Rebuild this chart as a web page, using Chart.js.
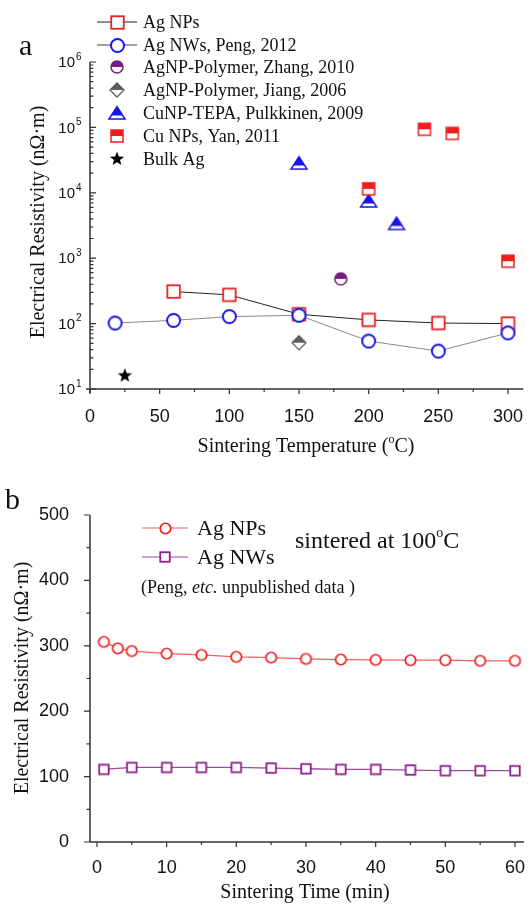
<!DOCTYPE html>
<html><head><meta charset="utf-8">
<script src="https://cdn.jsdelivr.net/npm/chart.js@4/dist/chart.umd.min.js"></script>
<style>
html,body{margin:0;padding:0;background:#fff;overflow:hidden;width:532px;height:905px}
canvas{display:block;position:absolute;left:0}
#c1{top:0}#c2{top:460px}
</style></head>
<body>
<canvas id="c1" width="532" height="460"></canvas>
<canvas id="c2" width="532" height="445"></canvas>
<script>
// ---------- Panel a data (Sintering Temperature °C vs resistivity nΩ·m) ----------
const tempAgNP = [60, 100, 150, 200, 250, 300];
const resAgNP  = [309, 275, 139, 114, 102, 100];
const tempAgNW = [18, 60, 100, 150, 200, 250, 300];
const resAgNW  = [102, 112, 128, 134, 54, 38, 72];
const tempZhang = [180];
const resZhang  = [483];
const tempJiang = [150];
const resJiang  = [51];
const tempPulk = [150, 200, 220];
const resPulk  = [28500, 7500, 3400];
const tempYan = [200, 240, 260, 300];
const resYan  = [11500, 93500, 81000, 900];
const tempBulk = [25];
const resBulk  = [16];
const tempTicks = [0, 50, 100, 150, 200, 250, 300];
const tempMinorTicks = [25, 75, 125, 175, 225, 275];
const resLogTicks = [10, 100, 1000, 10000, 100000, 1000000];
const labelsA = ["Ag NPs", "Ag NWs, Peng, 2012", "AgNP-Polymer, Zhang, 2010", "AgNP-Polymer, Jiang, 2006",
                 "CuNP-TEPA, Pulkkinen, 2009", "Cu NPs, Yan, 2011", "Bulk Ag"];

// ---------- Panel b data (Sintering time min vs resistivity) ----------
const timeNP = [1, 3, 5, 10, 15, 20, 25, 30, 35, 40, 45, 50, 55, 60];
const resNP  = [306, 296, 292, 288, 286, 283, 282, 280, 279, 278.5, 278, 278, 277, 277];
const timeNW = [1, 5, 10, 15, 20, 25, 30, 35, 40, 45, 50, 55, 60];
const resNW  = [111, 114, 114, 114, 114, 113, 112, 111, 111, 110, 109, 109, 109];
const timeTicks = [0, 10, 20, 30, 40, 50, 60];
const timeMinorTicks = [5, 15, 25, 35, 45, 55];
const resTicksB = [0, 100, 200, 300, 400, 500];
const resMinorTicksB = [50, 150, 250, 350, 450];
const labelsB = ["Ag NPs", "Ag NWs"];

const RED = '#ec1f1f', BLUE = '#1616e8', PURPLE = '#7c1a80', PURPLE2 = '#8e1f8e', GRAY = '#5e5e5e';
const SERIF = '"Liberation Serif","Times New Roman",serif';
const SANS = '"Liberation Sans",Arial,sans-serif';

function mk(kind, size, color, lw) {
  const pad = 2, d = Math.ceil(size + lw + pad * 2);
  const c = document.createElement('canvas'); c.width = c.height = d;
  const g = c.getContext('2d'); const m = d / 2, h = size / 2;
  g.lineWidth = lw; g.strokeStyle = color; g.fillStyle = '#fff'; g.lineJoin = 'miter';
  if (kind === 'square') {
    g.fillRect(m - h, m - h, size, size); g.strokeRect(m - h, m - h, size, size);
  } else if (kind === 'circle') {
    g.beginPath(); g.arc(m, m, h, 0, 2 * Math.PI); g.fill(); g.stroke();
  } else if (kind === 'halfSquare') {
    g.fillRect(m - h, m - h, size, size); g.fillStyle = color; g.fillRect(m - h, m - h, size, size / 2);
    g.strokeRect(m - h, m - h, size, size);
  } else if (kind === 'halfCircle') {
    g.beginPath(); g.arc(m, m, h, 0, 2 * Math.PI); g.fill();
    g.fillStyle = color; g.beginPath(); g.arc(m, m, h, Math.PI, 2 * Math.PI); g.closePath(); g.fill();
    g.beginPath(); g.arc(m, m, h, 0, 2 * Math.PI); g.stroke();
  } else if (kind === 'halfDiamond') {
    g.beginPath(); g.moveTo(m, m - h); g.lineTo(m + h, m); g.lineTo(m, m + h); g.lineTo(m - h, m); g.closePath(); g.fill();
    g.fillStyle = color; g.beginPath(); g.moveTo(m, m - h); g.lineTo(m + h, m); g.lineTo(m - h, m); g.closePath(); g.fill();
    g.beginPath(); g.moveTo(m, m - h); g.lineTo(m + h, m); g.lineTo(m, m + h); g.lineTo(m - h, m); g.closePath(); g.stroke();
  } else if (kind === 'halfTriangle') {
    const top = m - h * 0.8, bot = m + h * 0.75, cut = m + h * 0.3;
    const f = (cut - top) / (bot - top);
    g.beginPath(); g.moveTo(m, top); g.lineTo(m + h, bot); g.lineTo(m - h, bot); g.closePath(); g.fill();
    g.fillStyle = color; g.beginPath(); g.moveTo(m, top); g.lineTo(m + h * f, cut); g.lineTo(m - h * f, cut); g.closePath(); g.fill();
    g.beginPath(); g.moveTo(m, top); g.lineTo(m + h, bot); g.lineTo(m - h, bot); g.closePath(); g.stroke();
  } else if (kind === 'star') {
    g.fillStyle = color; g.beginPath();
    for (let i = 0; i < 10; i++) {
      const r = i % 2 === 0 ? h : h * 0.42, a = -Math.PI / 2 + i * Math.PI / 5;
      const x = m + r * Math.cos(a), y = m + r * Math.sin(a);
      i === 0 ? g.moveTo(x, y) : g.lineTo(x, y);
    }
    g.closePath(); g.fill();
  }
  return c;
}

const mAgNP = mk('square', 12.5, RED, 1.8);
const mAgNW = mk('circle', 13, BLUE, 2);
const mZhang = mk('halfCircle', 12, PURPLE, 1.5);
const mJiang = mk('halfDiamond', 14, GRAY, 1.3);
const mPulk = mk('halfTriangle', 16, BLUE, 1.5);
const mYan = mk('halfSquare', 12, RED, 1.5);
const mBulk = mk('star', 15, '#000', 1);
const mNP_b = mk('circle', 10.5, RED, 1.7);
const mNW_b = mk('square', 9.5, PURPLE2, 1.8);

function pts(xs, ys) { return xs.map((x, i) => ({ x: x, y: ys[i] })); }

function drawParts(ctx, parts, x, y, align) {
  let w = 0;
  parts.forEach(p => { ctx.font = p.font; w += ctx.measureText(p.t).width; });
  let cx = align === 'center' ? x - w / 2 : x;
  ctx.textAlign = 'left'; ctx.textBaseline = 'alphabetic';
  parts.forEach(p => { ctx.font = p.font; ctx.fillText(p.t, cx, y + (p.dy || 0)); cx += ctx.measureText(p.t).width; });
}

const axesPlugin = {
  id: 'axesDraw',
  afterDraw(chart, args, o) {
    const { ctx, chartArea: a, scales } = chart;
    ctx.save();
    ctx.strokeStyle = '#333'; ctx.lineWidth = 1.5;
    ctx.beginPath();
    ctx.moveTo(a.left, a.top); ctx.lineTo(a.left, a.bottom + (o.yIn ? 4 : 0));
    ctx.moveTo(a.left - (o.yIn ? 4 : 0), a.bottom); ctx.lineTo(a.right, a.bottom);
    ctx.stroke();
    ctx.lineWidth = 1.2; ctx.beginPath();
    const X = scales.x, Y = scales.y;
    o.xMajor.forEach(v => { const p = X.getPixelForValue(v); ctx.moveTo(p, a.bottom); ctx.lineTo(p, a.bottom + 5); });
    o.xMinor.forEach(v => { const p = X.getPixelForValue(v); ctx.moveTo(p, a.bottom); ctx.lineTo(p, a.bottom + 3); });
    const d = o.yIn ? 1 : -1;
    o.yMajor.forEach(v => { const p = Y.getPixelForValue(v); ctx.moveTo(a.left, p); ctx.lineTo(a.left + d * 6, p); });
    o.yMinor.forEach(v => { const p = Y.getPixelForValue(v); ctx.moveTo(a.left, p); ctx.lineTo(a.left + d * 3.5, p); });
    ctx.stroke();
    ctx.fillStyle = '#111';
    if (o.logLabels) {
      o.yMajor.forEach(v => {
        const p = Y.getPixelForValue(v), n = Math.round(Math.log10(v));
        ctx.font = '15px ' + SANS; ctx.textAlign = 'right'; ctx.textBaseline = 'middle';
        ctx.fillText('10', 75, p + 1);
        ctx.font = '10px ' + SANS; ctx.textAlign = 'left';
        ctx.fillText(String(n), 76, p - 5);
      });
    }
    if (o.extra) o.extra(ctx, chart);
    ctx.restore();
  }
};

function legendItem(ctx, x1, x2, xm, xt, y, lineColor, marker, text, font) {
  if (lineColor) {
    ctx.strokeStyle = lineColor; ctx.lineWidth = 1.2;
    ctx.beginPath(); ctx.moveTo(x1, y); ctx.lineTo(x2, y); ctx.stroke();
  }
  ctx.drawImage(marker, Math.round(xm - marker.width / 2), Math.round(y - marker.height / 2));
  ctx.fillStyle = '#111'; ctx.font = font; ctx.textAlign = 'left'; ctx.textBaseline = 'middle';
  ctx.fillText(text, xt, y + 1);
}

// ---------- Chart a ----------
const logMinor = [];
resLogTicks.slice(0, -1).forEach(b => { for (let k = 2; k <= 9; k++) logMinor.push(b * k); });

new Chart(document.getElementById('c1'), {
  type: 'line',
  data: {
    datasets: [
      { label: labelsA[0], data: pts(tempAgNP, resAgNP), borderColor: '#222', borderWidth: 1, pointStyle: mAgNP, showLine: true, order: 3 },
      { label: labelsA[1], data: pts(tempAgNW, resAgNW), borderColor: '#8a8a8a', borderWidth: 1, pointStyle: mAgNW, showLine: true, order: 2 },
      { label: labelsA[2], data: pts(tempZhang, resZhang), pointStyle: mZhang, showLine: false, order: 1 },
      { label: labelsA[3], data: pts(tempJiang, resJiang), pointStyle: mJiang, showLine: false, order: 1 },
      { label: labelsA[4], data: pts(tempPulk, resPulk), pointStyle: mPulk, showLine: false, order: 1 },
      { label: labelsA[5], data: pts(tempYan, resYan), pointStyle: mYan, showLine: false, order: 0 },
      { label: labelsA[6], data: pts(tempBulk, resBulk), pointStyle: mBulk, showLine: false, order: 1 }
    ]
  },
  options: {
    responsive: false, animation: false, devicePixelRatio: 1, events: [],
    layout: { padding: { top: 62, left: 0, right: 0, bottom: 0 }, autoPadding: false },
    elements: { point: { radius: 6 }, line: { tension: 0 } },
    plugins: {
      legend: { display: false }, tooltip: { enabled: false },
      axesDraw: {
        yIn: true, logLabels: true,
        xMajor: tempTicks, xMinor: tempMinorTicks, yMajor: resLogTicks, yMinor: logMinor,
        extra(ctx) {
          const ys = [22, 45, 67, 90, 113, 136, 159];
          const mks = [mAgNP, mAgNW, mZhang, mJiang, mPulk, mYan, mBulk];
          const lines = ['#222', '#444', null, null, null, null, null];
          labelsA.forEach((t, i) => legendItem(ctx, 97, 137, 117, 143, ys[i], lines[i], mks[i], t, '18px ' + SERIF));
          ctx.fillStyle = '#111';
          ctx.font = '30px ' + SERIF; ctx.textAlign = 'left'; ctx.textBaseline = 'alphabetic';
          ctx.fillText('a', 19, 55);
          drawParts(ctx, [
            { t: 'Sintering Temperature (', font: '20px ' + SERIF },
            { t: 'o', font: '12px ' + SERIF, dy: -9 },
            { t: 'C)', font: '20px ' + SERIF }
          ], 306, 452, 'center');
          ctx.save(); ctx.translate(39, 222); ctx.rotate(-Math.PI / 2);
          ctx.font = '20px ' + SERIF; ctx.textAlign = 'center'; ctx.textBaseline = 'middle';
          ctx.fillText('Electrical Resistivity (nΩ·m)', 0, 0); ctx.restore();
        }
      }
    },
    scales: {
      x: {
        type: 'linear', position: 'bottom', min: 0, max: 311,
        grid: { display: false }, border: { display: false },
        ticks: { font: { family: SANS, size: 18 }, color: '#111', padding: 9, maxRotation: 0, autoSkip: false },
        afterBuildTicks: s => { s.ticks = tempTicks.map(v => ({ value: v })); },
        afterFit: s => { s.height = 71; }
      },
      y: {
        type: 'logarithmic', min: 10, max: 1000000,
        grid: { display: false }, border: { display: false },
        ticks: { display: false },
        afterBuildTicks: s => { s.ticks = resLogTicks.map(v => ({ value: v })); },
        afterFit: s => { s.width = 90; }
      }
    }
  },
  plugins: [axesPlugin]
});

// ---------- Chart b ----------
new Chart(document.getElementById('c2'), {
  type: 'line',
  data: {
    datasets: [
      { label: labelsB[0], data: pts(timeNP, resNP), borderColor: '#f06060', borderWidth: 1.3, pointStyle: mNP_b, showLine: true },
      { label: labelsB[1], data: pts(timeNW, resNW), borderColor: '#9a4a9a', borderWidth: 1.3, pointStyle: mNW_b, showLine: true }
    ]
  },
  options: {
    responsive: false, animation: false, devicePixelRatio: 1, events: [],
    layout: { padding: { top: 55, left: 0, right: 0, bottom: 0 }, autoPadding: false },
    elements: { point: { radius: 5 }, line: { tension: 0 } },
    plugins: {
      legend: { display: false }, tooltip: { enabled: false },
      axesDraw: {
        yIn: false,
        xMajor: timeTicks, xMinor: timeMinorTicks, yMajor: resTicksB, yMinor: resMinorTicksB,
        extra(ctx) {
          legendItem(ctx, 142, 188, 165, 197, 68, '#f06060', mNP_b, labelsB[0], '22px ' + SERIF);
          legendItem(ctx, 142, 188, 165, 197, 97, '#9a4a9a', mNW_b, labelsB[1], '22px ' + SERIF);
          ctx.fillStyle = '#111';
          drawParts(ctx, [
            { t: 'sintered at 100', font: '24px ' + SERIF },
            { t: 'o', font: '14px ' + SERIF, dy: -11 },
            { t: 'C', font: '24px ' + SERIF }
          ], 295, 88, 'left');
          drawParts(ctx, [
            { t: '(Peng, ', font: '18px ' + SERIF },
            { t: 'etc.', font: 'italic 18px ' + SERIF },
            { t: ' unpublished data )', font: '18px ' + SERIF }
          ], 141, 133, 'left');
          ctx.font = '30px ' + SERIF; ctx.textAlign = 'left'; ctx.textBaseline = 'alphabetic';
          ctx.fillText('b', 5, 49);
          drawParts(ctx, [{ t: 'Sintering Time (min)', font: '20px ' + SERIF }], 305, 438, 'center');
          ctx.save(); ctx.translate(23, 218); ctx.rotate(-Math.PI / 2);
          ctx.font = '20px ' + SERIF; ctx.textAlign = 'center'; ctx.textBaseline = 'middle';
          ctx.fillText('Electrical Resistivity (nΩ·m)', 0, 0); ctx.restore();
        }
      }
    },
    scales: {
      x: {
        type: 'linear', position: 'bottom', min: -1, max: 61.3,
        grid: { display: false }, border: { display: false },
        ticks: { font: { family: SANS, size: 18 }, color: '#111', padding: 7, maxRotation: 0, autoSkip: false },
        afterBuildTicks: s => { s.ticks = timeTicks.map(v => ({ value: v })); },
        afterFit: s => { s.height = 63; }
      },
      y: {
        type: 'linear', min: 0, max: 500,
        grid: { display: false }, border: { display: false },
        ticks: { font: { family: SANS, size: 18 }, color: '#111', padding: 13, autoSkip: false },
        afterBuildTicks: s => { s.ticks = resTicksB.map(v => ({ value: v })); },
        afterFit: s => { s.width = 90; }
      }
    }
  },
  plugins: [axesPlugin]
});
</script>
</body></html>
